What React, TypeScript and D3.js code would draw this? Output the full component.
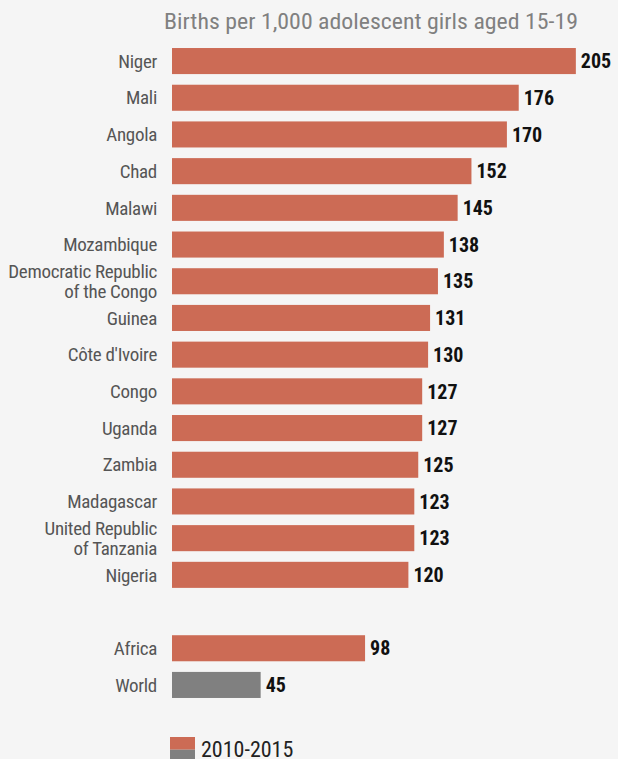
import React from "react";
import * as d3 from "d3";

const countries = [
  "Niger", "Mali", "Angola", "Chad", "Malawi", "Mozambique",
  "Democratic Republic|of the Congo", "Guinea", "Côte d'Ivoire", "Congo",
  "Uganda", "Zambia", "Madagascar", "United Republic|of Tanzania", "Nigeria",
  "", "Africa", "World",
];
const values = [205, 176, 170, 152, 145, 138, 135, 131, 130, 127, 127, 125, 123, 123, 120, null, 98, 45];
const barColors = ["#cc6b55", "#808080"];
const legendLabels = ["2010-2015"];
const title = "Births per 1,000 adolescent girls aged 15-19";

const W = 618;
const H = 759;
const FONT = "'Roboto Condensed', 'Liberation Sans Narrow', 'Arial Narrow', 'DejaVu Sans Condensed', Roboto, sans-serif";

export default function App() {
  const x = d3.scaleLinear().domain([0, 205]).range([172, 172 + 205 * 1.97]);
  const keys = countries.map((c, i) => `${i}`);
  const y = d3
    .scaleBand<string>()
    .domain(keys)
    .range([42.7, 42.7 + 18 * 36.7])
    .paddingInner(0.29)
    .paddingOuter(0.145);
  const bw = y.bandwidth();

  return (
    <div style={{ position: "absolute", left: 0, top: 0, width: W, height: H, background: "#f5f5f5" }}>
      <svg width={W} height={H} style={{ display: "block", fontFamily: FONT }}>
        <rect width={W} height={H} fill="#f5f5f5" />
        <text x={164} y={29} fontSize={22} fill="#808080" textLength={414} lengthAdjust="spacingAndGlyphs">
          {title}
        </text>
        {countries.map((c, i) => {
          const v = values[i];
          if (v === null) return null;
          const y0 = y(keys[i])!;
          const cy = y0 + bw / 2;
          const lines = c.split("|");
          const isWorld = c === "World";
          return (
            <g key={i}>
              <rect x={x(0)} y={y0} width={x(v) - x(0)} height={bw} fill={isWorld ? barColors[1] : barColors[0]} />
              {lines.map((ln, j) => (
                <text
                  key={j}
                  x={157}
                  y={cy + (j - (lines.length - 1) / 2) * 20}
                  dy="0.35em"
                  textAnchor="end"
                  fontSize={19}
                  fill="#555"
                  letterSpacing={-0.3}
                >
                  {ln}
                </text>
              ))}
              <text x={x(v) + 5} y={cy} dy="0.36em" fontSize={20} fontWeight="bold" fill="#111">
                {v}
              </text>
            </g>
          );
        })}
        <rect x={170} y={737} width={25} height={12.7} fill={barColors[0]} />
        <rect x={170} y={749.7} width={25} height={12.7} fill={barColors[1]} />
        <text x={201} y={757} fontSize={22} fill="#222">
          {legendLabels[0]}
        </text>
      </svg>
    </div>
  );
}
